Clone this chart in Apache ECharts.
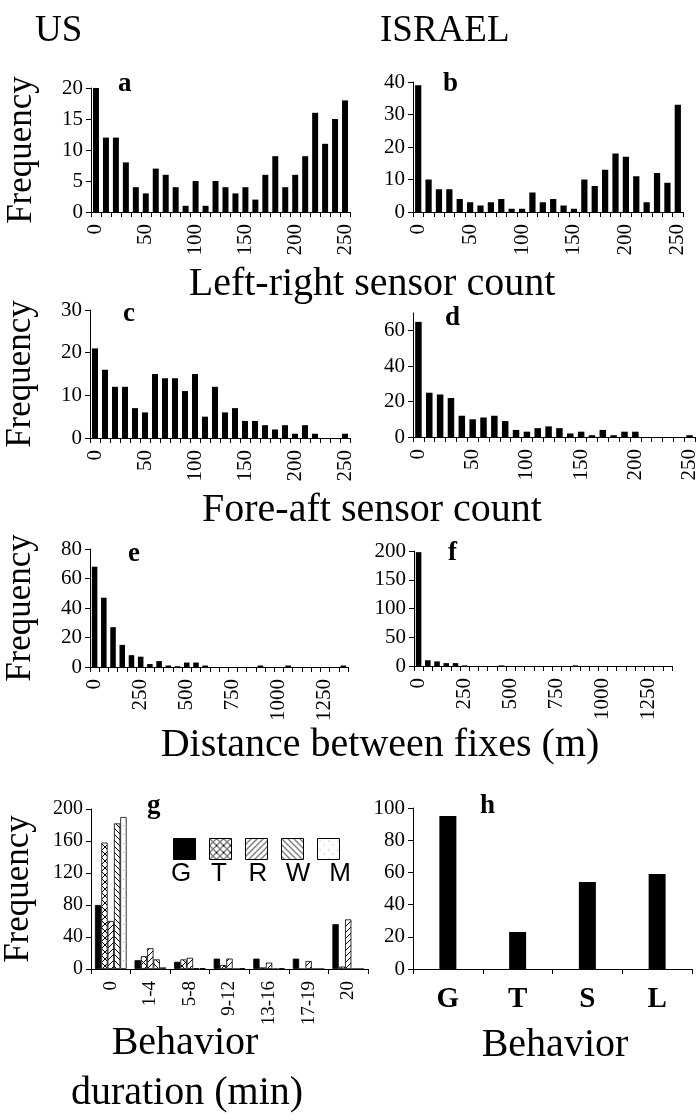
<!DOCTYPE html>
<html><head><meta charset="utf-8">
<script src="https://cdn.jsdelivr.net/npm/echarts@6/dist/echarts.min.js"></script>
<style>html,body{margin:0;padding:0;background:#fff}#c{width:700px;height:1120px}</style>
</head><body><div id="c"></div>
<script>
// ---------- data ----------
const sensorBins = ['0','10','20','30','40','50','60','70','80','90','100','110','120','130','140','150','160','170','180','190','200','210','220','230','240','250'];
const distanceBins = ['0','50','100','150','200','250','300','350','400','450','500','550','600','650','700','750','800','850','900','950','1000','1050','1100','1150','1200','1250','1300','1350'];
const leftRightUS = [20,12,12,8,4,3,7,6,4,1,5,1,5,4,3,4,2,6,9,4,6,9,16,11,15,18];
const leftRightIsrael = [39,10,7,7,4,3,2,3,4,1,1,6,3,4,2,1,10,8,13,18,17,11,3,12,9,33];
const foreAftUS = [21,16,12,12,7,6,15,14,14,11,15,5,12,6,7,4,4,3,2,3,1,3,1,0,0,1];
const foreAftIsrael = [65,25,24,22,12,10,11,12,9,4,3,5,6,5,2,3,1,4,1,3,3,0,0,0,0,1];
const distanceUS = [68,47,27,15,8,7,2,4,1,0.5,3,3,1,0,0,0,0,0,1,0,0,1,0,0,0,0,0,1];
const distanceIsrael = [198,10,8,5,5,1,0,0,0,1,0,0,0,0,0,0,0,1,0,0,0,0,0,0,0,0,0,0];
const durationCats = ['0','1-4','5-8','9-12','13-16','17-19','20'];
const durationNames = ['G','T','R','W','M'];
const durationG = [80,11,9,13,13,13,56];
const durationT = [158,16,12,5,2,0,3];
const durationR = [60,26,14,13,8,10,62];
const durationW = [182,12,1,0,0,0,0];
const durationM = [190,2,1,1,1,0,0];
const behaviorCats = ['G','T','S','L'];
const behaviorIsrael = [95,23,54,59];

// ---------- patterns ----------
function makePattern(kind){
  const s = kind==='x' ? 7 : (kind==='dot' ? 9 : 6);
  const c = document.createElement('canvas'); c.width=s; c.height=s;
  const ctx = c.getContext('2d');
  ctx.fillStyle='#fff'; ctx.fillRect(0,0,s,s);
  ctx.strokeStyle='#000'; ctx.lineWidth=1;
  function ln(x1,y1,x2,y2){ctx.beginPath();ctx.moveTo(x1,y1);ctx.lineTo(x2,y2);ctx.stroke();}
  if(kind==='/'||kind==='x'){ ln(0,s,s,0); ln(-1,1,1,-1); ln(s-1,s+1,s+1,s-1); }
  if(kind==='\\'||kind==='x'){ ln(0,0,s,s); ln(-1,s-1,1,s+1); ln(s-1,-1,s+1,1); }
  if(kind==='dot'){ ctx.fillStyle='#999'; ctx.fillRect(2,2,1,1); ctx.fillRect(6,6,1,1); }
  return {image:c, repeat:'repeat'};
}
const durationFills = ['#000', makePattern('x'), makePattern('/'), makePattern('\\'), makePattern('dot')];
const durationData = [durationG, durationT, durationR, durationW, durationM];

const SERIF = '"Liberation Serif", "Times New Roman", serif';
const SANS = '"Liberation Sans", Arial, sans-serif';

const grids = [
  {left:91, top:88, width:259, height:124},
  {left:413, top:82, width:270, height:130},
  {left:90, top:310, width:260, height:128},
  {left:413, top:313, width:286, height:124},
  {left:90, top:549, width:258, height:118},
  {left:414, top:551, width:258, height:115},
  {left:88, top:809, width:280, height:160},
  {left:413, top:808, width:279, height:161}
];

const axisLine = {show:true, lineStyle:{color:'#000', width:1}};
const axisTick = {show:true, length:5, lineStyle:{color:'#000', width:1}};

function histX(i, cats){
  return {type:'category', gridIndex:i, data:cats, axisLine, axisTick:Object.assign({interval:0}, axisTick),
    axisLabel:{interval:4, rotate:90, margin:12, color:'#000', fontFamily:SERIF, fontSize:21}};
}
function valY(i, max, interval, withName){
  const y = {type:'value', gridIndex:i, min:0, max, interval, splitLine:{show:false}, axisLine, axisTick,
    axisLabel:{margin:8, color:'#000', fontFamily:SERIF, fontSize:21, showMaxLabel: (max % interval === 0)}};
  if(withName){
    Object.assign(y, {name:'Frequency', nameLocation:'middle', nameGap:52,
      nameTextStyle:{fontFamily:SERIF, fontSize:35, color:'#000'}});
  }
  return y;
}
function barSeries(i, vals){
  return {type:'bar', xAxisIndex:i, yAxisIndex:i, data:vals, barCategoryGap:'40%',
    itemStyle:{color:'#000'}, silent:true, animation:false};
}

const xAxes = [
  histX(0, sensorBins), histX(1, sensorBins), histX(2, sensorBins), histX(3, sensorBins),
  histX(4, distanceBins), histX(5, distanceBins),
  {type:'category', gridIndex:6, data:durationCats, axisLine, axisTick:Object.assign({interval:0}, axisTick),
    axisLabel:{interval:0, rotate:90, margin:12, color:'#000', fontFamily:SERIF, fontSize:19}},
  {type:'category', gridIndex:7, data:behaviorCats, axisLine, axisTick:Object.assign({interval:0}, axisTick),
    axisLabel:{interval:0, margin:16, color:'#000', fontFamily:SERIF, fontSize:29, fontWeight:'bold'}}
];
const yAxes = [
  valY(0,20,5,true), valY(1,40,10,false), valY(2,30,10,true), valY(3,70,20,false),
  valY(4,80,20,true), valY(5,200,50,false), valY(6,200,40,true), valY(7,100,20,false)
];
yAxes[6].axisLabel.fontSize = 20;
yAxes[6].nameGap = 55;

const series = [
  barSeries(0, leftRightUS), barSeries(1, leftRightIsrael),
  barSeries(2, foreAftUS), barSeries(3, foreAftIsrael),
  barSeries(4, distanceUS), barSeries(5, distanceIsrael)
];
durationNames.forEach((n, k) => {
  series.push({type:'bar', name:n, xAxisIndex:6, yAxisIndex:6, data:durationData[k],
    barGap:'0%', barCategoryGap:'20%',
    itemStyle:{color:durationFills[k], borderColor:'#000', borderWidth:0.8}, silent:true, animation:false});
});
series.push({type:'bar', xAxisIndex:7, yAxisIndex:7, data:behaviorIsrael, barWidth:17,
  itemStyle:{color:'#000'}, silent:true, animation:false});

function txt(x, y, s, font, align){
  return {type:'text', x, y, silent:true,
    style:{text:s, font, fill:'#000', align:align||'left', verticalAlign:'middle'}};
}
const BOLD26 = 'bold 27px ' + SERIF;
const BIG = '40px ' + SERIF;
const graphics = [
  txt(35, 31, 'US', '37px ' + SERIF),
  txt(380, 31, 'ISRAEL', '37px ' + SERIF),
  txt(118, 84, 'a', BOLD26), txt(443, 84, 'b', BOLD26),
  txt(123, 314, 'c', BOLD26), txt(445, 318, 'd', BOLD26),
  txt(128, 554, 'e', BOLD26), txt(448, 553, 'f', BOLD26),
  txt(147, 806, 'g', BOLD26), txt(480, 806, 'h', BOLD26),
  txt(372, 284, 'Left-right sensor count', BIG, 'center'),
  txt(372, 510, 'Fore-aft sensor count', BIG, 'center'),
  txt(380, 745, 'Distance between fixes (m)', BIG, 'center'),
  txt(185, 1043, 'Behavior', BIG, 'center'),
  txt(187, 1093, 'duration (min)', BIG, 'center'),
  txt(555, 1045, 'Behavior', BIG, 'center')
];
const legendX = [181, 219, 258, 298, 340];
durationNames.forEach((n, k) => graphics.push(txt(legendX[k], 874, n, '26px ' + SANS, 'center')));

const chart = echarts.init(document.getElementById('c'), null, {renderer:'canvas'});
chart.setOption({
  animation:false,
  backgroundColor:'#fff',
  grid: grids,
  xAxis: xAxes,
  yAxis: yAxes,
  series,
  legend:{data:durationNames, left:168, top:833, itemWidth:22, itemHeight:21, itemGap:13,
    icon:'rect', formatter:() => '', selectedMode:false,
    itemStyle:{borderColor:'#000', borderWidth:1}},
  graphic: graphics
});
</script></body></html>
